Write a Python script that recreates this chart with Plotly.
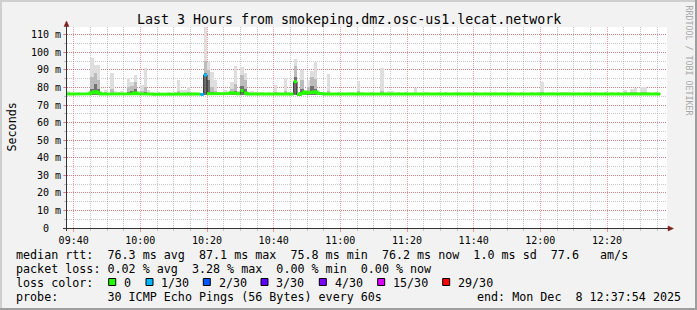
import plotly.graph_objects as go
from datetime import datetime, timedelta

# ---------------- data (one sample per minute, 09:38 .. 12:36) ----------------
median = [
    76.3, 76.2, 76.3, 76.1, 76.2, 76.3, 76.4, 77.0, 77.6, 76.8,
    76.3, 76.2, 76.2, 76.4, 76.1, 76.2, 76.3, 76.2, 76.5, 76.4,
    76.9, 76.4, 76.3, 76.6, 76.3, 76.2, 76.1, 76.2, 76.3, 76.2,
    76.2, 76.3, 76.1, 76.5, 76.2, 76.4, 76.3, 76.2, 76.1, 76.2,
    76.0, 87.1, 76.4, 76.3, 76.2, 76.2, 76.3, 76.2, 76.5, 77.0,
    76.6, 76.4, 78.2, 76.8, 76.3, 76.4, 76.2, 76.3, 76.2, 76.3,
    76.2, 76.3, 76.4, 76.2, 76.1, 76.5, 76.3, 76.2, 83.3, 76.0,
    76.6, 77.4, 76.8, 77.2, 77.5, 76.8, 76.4, 76.3, 76.2, 76.3,
    76.2, 76.3, 76.2, 76.1, 76.2, 76.3, 76.2, 76.4, 76.3, 76.2,
    76.3, 76.2, 76.2, 76.3, 76.4, 76.2, 76.3, 76.4, 76.2, 76.3,
    76.2, 76.1, 76.2, 76.3, 76.4, 76.2, 76.2, 76.3, 76.2, 76.1,
    76.2, 76.3, 76.2, 76.3, 76.2, 76.2, 76.1, 76.2, 76.3, 76.2,
    76.2, 76.3, 76.2, 76.2, 76.1, 76.2, 76.3, 76.2, 76.2, 76.3,
    76.4, 76.2, 76.2, 76.1, 76.2, 76.3, 76.2, 76.2, 76.3, 76.4,
    76.2, 76.3, 76.5, 76.2, 76.2, 76.3, 76.2, 76.1, 76.2, 76.3,
    76.3, 76.2, 76.2, 76.1, 76.2, 76.3, 76.2, 76.2, 76.3, 76.2,
    76.2, 76.1, 76.2, 76.3, 76.2, 76.2, 76.3, 76.4, 76.3, 76.4,
    76.4, 76.3, 76.5, 76.4, 76.3, 76.2, 76.2, 76.2,
]

# lost pings (out of 30) per sample
loss = [
    0, 0, 0, 0, 0, 0, 0, 0, 0, 0,
    0, 0, 0, 0, 0, 0, 0, 0, 0, 0,
    0, 0, 0, 0, 0, 0, 0, 0, 0, 0,
    0, 0, 0, 0, 0, 0, 0, 0, 0, 0,
    1, 1, 0, 0, 0, 0, 0, 0, 0, 0,
    0, 0, 0, 0, 0, 0, 0, 0, 0, 0,
    0, 0, 0, 0, 0, 0, 0, 0, 0, 0,
    0, 0, 0, 0, 0, 0, 0, 0, 0, 0,
    0, 0, 0, 0, 0, 0, 0, 0, 0, 0,
    0, 0, 0, 0, 0, 0, 0, 0, 0, 0,
    0, 0, 0, 0, 0, 0, 0, 0, 0, 0,
    0, 0, 0, 0, 0, 0, 0, 0, 0, 0,
    0, 0, 0, 0, 0, 0, 0, 0, 0, 0,
    0, 0, 0, 0, 0, 0, 0, 0, 0, 0,
    0, 0, 0, 0, 0, 0, 0, 0, 0, 0,
    0, 0, 0, 0, 0, 0, 0, 0, 0, 0,
    0, 0, 0, 0, 0, 0, 0, 0, 0, 0,
    0, 0, 0, 0, 0, 0, 0, 0,
]

# smoke: fastest ping, outer (max), middle band top, inner band top
smoke_low = [
    75.8, 75.7, 75.8, 75.7, 75.8, 75.8, 75.9, 75.8, 75.9, 75.8,
    75.8, 75.7, 75.8, 75.8, 75.7, 75.8, 75.8, 75.7, 75.9, 75.8,
    75.9, 75.8, 75.8, 75.9, 75.8, 75.7, 75.7, 75.8, 75.8, 75.7,
    75.8, 75.8, 75.7, 75.9, 75.8, 75.8, 75.8, 75.7, 75.7, 75.8,
    75.8, 75.9, 75.9, 75.8, 75.8, 75.7, 75.8, 75.8, 75.9, 75.9,
    75.9, 75.8, 75.9, 75.9, 75.8, 75.8, 75.7, 75.8, 75.8, 75.8,
    75.8, 75.8, 75.8, 75.7, 75.7, 75.9, 75.8, 75.8, 75.9, 75.7,
    75.9, 75.9, 75.9, 75.9, 75.9, 75.8, 75.8, 75.8, 75.8, 75.8,
    75.8, 75.8, 75.7, 75.7, 75.8, 75.8, 75.8, 75.9, 75.8, 75.8,
    75.8, 75.8, 75.7, 75.8, 75.8, 75.7, 75.8, 75.8, 75.7, 75.8,
    75.8, 75.7, 75.8, 75.8, 75.8, 75.7, 75.8, 75.8, 75.8, 75.7,
    75.8, 75.8, 75.7, 75.8, 75.8, 75.7, 75.7, 75.8, 75.8, 75.7,
    75.8, 75.8, 75.7, 75.8, 75.7, 75.8, 75.8, 75.7, 75.8, 75.8,
    75.8, 75.7, 75.8, 75.7, 75.8, 75.8, 75.7, 75.8, 75.8, 75.8,
    75.7, 75.8, 75.9, 75.8, 75.7, 75.8, 75.8, 75.7, 75.8, 75.8,
    75.8, 75.7, 75.8, 75.7, 75.8, 75.8, 75.7, 75.8, 75.8, 75.7,
    75.8, 75.7, 75.8, 75.8, 75.7, 75.8, 75.8, 75.8, 75.8, 75.9,
    75.9, 75.8, 75.9, 75.8, 75.8, 75.8, 75.7, 75.8,
]
smoke_top = [
    78.0, 77.0, 76.9, 77.3, 77.1, 77.0, 77.5, 97.0, 93.0, 93.0,
    77.5, 78.6, 77.0, 88.4, 78.0, 77.5, 78.0, 77.0, 85.2, 83.3,
    87.1, 78.0, 81.4, 91.3, 78.6, 77.2, 77.0, 77.3, 77.0, 76.9,
    77.3, 77.0, 77.2, 84.3, 78.6, 78.4, 80.0, 77.2, 77.0, 76.9,
    76.9, 114.2, 94.6, 88.9, 84.3, 77.3, 77.0, 78.6, 77.2, 83.3,
    92.3, 77.8, 91.5, 88.4, 77.4, 77.8, 77.2, 77.0, 77.3, 77.0,
    77.2, 77.0, 81.4, 77.2, 77.0, 85.2, 77.3, 77.0, 96.2, 77.5,
    89.9, 78.0, 84.3, 89.4, 94.7, 77.5, 77.0, 77.2, 87.6, 77.0,
    77.0, 77.3, 77.0, 77.0, 77.6, 77.5, 77.0, 83.7, 77.2, 77.0,
    77.0, 77.2, 77.0, 77.0, 90.9, 77.0, 77.7, 77.7, 77.0, 77.6,
    77.0, 77.2, 77.0, 77.0, 79.6, 77.0, 77.0, 77.2, 77.4, 77.0,
    77.0, 77.2, 77.0, 77.4, 77.0, 77.0, 77.2, 77.4, 77.0, 77.0,
    77.3, 77.0, 77.2, 77.0, 77.0, 77.2, 77.0, 77.0, 77.3, 77.0,
    77.4, 77.0, 77.0, 77.2, 77.0, 77.0, 77.2, 77.0, 77.0, 77.4,
    77.0, 77.2, 83.3, 77.0, 77.2, 77.5, 77.0, 77.0, 77.2, 77.4,
    77.4, 77.0, 77.0, 77.2, 77.0, 77.4, 77.0, 77.0, 77.2, 77.0,
    77.0, 77.2, 77.0, 77.4, 77.0, 77.2, 77.0, 78.6, 77.2, 79.0,
    79.6, 77.2, 80.0, 80.0, 77.4, 77.0, 77.2, 77.0,
]
smoke_mid = [
    76.8, 76.8, 76.7, 76.9, 76.8, 76.8, 77.0, 86.0, 88.0, 84.0,
    76.9, 77.2, 76.8, 79.0, 77.0, 76.9, 77.0, 76.8, 80.0, 81.0,
    83.0, 77.0, 78.0, 80.0, 77.0, 76.8, 76.7, 76.8, 76.8, 76.7,
    76.8, 76.8, 76.8, 78.0, 77.0, 77.0, 77.5, 76.8, 76.7, 76.7,
    76.7, 95.0, 90.0, 80.0, 78.0, 76.8, 76.8, 77.0, 76.9, 79.0,
    82.0, 77.0, 87.0, 84.0, 76.9, 77.0, 76.8, 76.8, 76.9, 76.8,
    76.8, 76.8, 77.5, 76.8, 76.7, 78.0, 76.9, 76.8, 92.0, 76.8,
    84.0, 77.8, 80.0, 86.0, 85.0, 77.0, 76.8, 76.8, 78.0, 76.8,
    76.8, 76.9, 76.8, 76.7, 76.9, 76.9, 76.8, 78.0, 76.9, 76.8,
    76.8, 76.8, 76.8, 76.8, 78.0, 76.8, 77.0, 77.0, 76.8, 76.9,
    76.8, 76.7, 76.8, 76.9, 77.0, 76.8, 76.8, 76.9, 76.9, 76.7,
    76.8, 76.9, 76.8, 76.9, 76.8, 76.8, 76.7, 76.8, 76.9, 76.8,
    76.8, 76.9, 76.8, 76.8, 76.7, 76.8, 76.9, 76.8, 76.8, 76.9,
    77.0, 76.8, 76.8, 76.7, 76.8, 76.9, 76.8, 76.8, 76.9, 77.0,
    76.8, 76.9, 77.5, 76.8, 76.8, 76.9, 76.8, 76.7, 76.8, 76.9,
    76.9, 76.8, 76.8, 76.7, 76.8, 76.9, 76.8, 76.8, 76.9, 76.8,
    76.8, 76.7, 76.8, 76.9, 76.8, 76.8, 76.9, 77.2, 76.9, 77.2,
    77.4, 76.9, 77.5, 77.4, 76.9, 76.8, 76.8, 76.8,
]
smoke_dark = [
    76.5, 76.4, 76.5, 76.3, 76.4, 76.5, 76.6, 79.0, 82.0, 79.0,
    76.5, 76.6, 76.4, 77.0, 76.4, 76.5, 76.5, 76.4, 77.5, 78.0,
    79.0, 76.6, 76.8, 77.5, 76.5, 76.4, 76.3, 76.4, 76.5, 76.4,
    76.4, 76.5, 76.3, 76.8, 76.4, 76.6, 76.8, 76.4, 76.3, 76.4,
    76.3, 88.0, 84.0, 77.5, 76.8, 76.4, 76.5, 76.5, 76.7, 77.5,
    78.0, 76.6, 81.0, 79.0, 76.5, 76.6, 76.4, 76.5, 76.4, 76.5,
    76.4, 76.5, 76.7, 76.4, 76.3, 76.8, 76.5, 76.4, 86.0, 76.3,
    79.0, 77.6, 77.5, 81.0, 79.0, 77.0, 76.6, 76.5, 76.6, 76.5,
    76.4, 76.5, 76.4, 76.3, 76.4, 76.5, 76.4, 76.7, 76.5, 76.4,
    76.5, 76.4, 76.4, 76.5, 76.7, 76.4, 76.5, 76.6, 76.4, 76.5,
    76.4, 76.3, 76.4, 76.5, 76.6, 76.4, 76.4, 76.5, 76.4, 76.3,
    76.4, 76.5, 76.4, 76.5, 76.4, 76.4, 76.3, 76.4, 76.5, 76.4,
    76.4, 76.5, 76.4, 76.4, 76.3, 76.4, 76.5, 76.4, 76.4, 76.5,
    76.6, 76.4, 76.4, 76.3, 76.4, 76.5, 76.4, 76.4, 76.5, 76.6,
    76.4, 76.5, 76.7, 76.4, 76.4, 76.5, 76.4, 76.3, 76.4, 76.5,
    76.5, 76.4, 76.4, 76.3, 76.4, 76.5, 76.4, 76.4, 76.5, 76.4,
    76.4, 76.3, 76.4, 76.5, 76.4, 76.4, 76.5, 76.6, 76.5, 76.6,
    76.6, 76.5, 76.7, 76.6, 76.5, 76.4, 76.4, 76.4,
]

y_tick_values = [0, 10, 20, 30, 40, 50, 60, 70, 80, 90, 100, 110]
y_tick_labels = ["0\u00a0\u00a0", "10 m", "20 m", "30 m", "40 m", "50 m",
                 "60 m", "70 m", "80 m", "90 m", "100 m", "110 m"]

loss_labels = ["0", "1/30", "2/30", "3/30", "4/30", "15/30", "29/30"]
loss_thresholds = [0, 1, 2, 3, 4, 15, 29]
loss_colors = ["#26ff00", "#00b8ff", "#0059ff", "#5e00ff", "#7e00ff", "#dd00ff", "#ff0000"]

title_text = "Last 3 Hours from smokeping.dmz.osc-us1.lecat.network"
legend_rtt = "median rtt:  76.3 ms avg  87.1 ms max  75.8 ms min  76.2 ms now  1.0 ms sd  77.6   am/s"
legend_loss = "packet loss: 0.02 % avg  3.28 % max  0.00 % min  0.00 % now"
legend_probe = "probe:       30 ICMP Echo Pings (56 Bytes) every 60s"
legend_end = "end: Mon Dec  8 12:37:54 2025"

start = datetime(2025, 12, 8, 9, 38, 0)
end = datetime(2025, 12, 8, 12, 38, 0)
STEP = timedelta(seconds=60)

# ---------------- geometry helpers (pixels -> paper) ----------------
W, H = 697, 310
L, R, T, B = 67, 667, 27, 228
YMAX = 114.4
JUMP = 1.0  # median steps larger than this are drawn only with the thin dark line


def px(x):
    return (x - L) / (R - L)


def py(y):
    return (B - y) / (B - T)


def nb(s):
    return s.replace(" ", "\u00a0")


MONO = "DejaVu Sans Mono"
GRID = "rgba(143,143,143,0.5)"
MGRID = "rgba(222,79,79,0.55)"
ARROW = "#802020"
AXIS = "#333333"

times = [start + STEP * k for k in range(len(median))]

fig = go.Figure()

# smoke layers
for top, col in ((smoke_top, "#dedede"), (smoke_mid, "#bcbcbc"), (smoke_dark, "#727272")):
    fig.add_trace(go.Bar(
        x=times, y=[t - b for t, b in zip(top, smoke_low)], base=smoke_low,
        width=60000, offset=0, marker=dict(color=col, line=dict(width=0)),
        hoverinfo="skip", showlegend=False))

# thin dark median step (visible only on the vertical transitions)
mx, my = [], []
for t, m in zip(times, median):
    mx += [t, t + STEP]
    my += [m, m]
fig.add_trace(go.Scatter(x=mx, y=my, mode="lines", line=dict(color="#202020", width=1),
                         hoverinfo="skip", showlegend=False))


def bucket(n):
    idx = 0
    for i, th in enumerate(loss_thresholds):
        if n >= th:
            idx = i
    return idx


# thick median, coloured by loss
for ci, col in enumerate(loss_colors):
    sx, sy = [], []
    prev_m = None
    for t, m, n in zip(times, median, loss):
        if bucket(n) == ci:
            if prev_m is not None and abs(m - prev_m) > JUMP:
                sx.append(None)
                sy.append(None)
            sx += [t, t + STEP]
            sy += [m, m]
            prev_m = m
        else:
            if prev_m is not None:
                sx.append(None)
                sy.append(None)
            prev_m = None
    if sx:
        fig.add_trace(go.Scatter(x=sx, y=sy, mode="lines", line=dict(color=col, width=3),
                                 hoverinfo="skip", showlegend=False, connectgaps=False))

shapes = []
# frame shading
shapes.append(dict(type="rect", xref="paper", yref="paper", x0=px(0), x1=px(697), y0=py(0), y1=py(2),
                   fillcolor="#cfcfcf", line=dict(width=0), layer="below"))
shapes.append(dict(type="rect", xref="paper", yref="paper", x0=px(0), x1=px(2), y0=py(0), y1=py(310),
                   fillcolor="#cfcfcf", line=dict(width=0), layer="below"))
shapes.append(dict(type="rect", xref="paper", yref="paper", x0=px(695), x1=px(697), y0=py(0), y1=py(310),
                   fillcolor="#9e9e9e", line=dict(width=0), layer="below"))
shapes.append(dict(type="rect", xref="paper", yref="paper", x0=px(0), x1=px(697), y0=py(308), y1=py(310),
                   fillcolor="#9e9e9e", line=dict(width=0), layer="below"))
# axes
shapes.append(dict(type="line", xref="paper", yref="paper", x0=px(66.5), x1=px(66.5), y0=py(231), y1=py(24),
                   line=dict(color=AXIS, width=1)))
shapes.append(dict(type="line", xref="paper", yref="paper", x0=px(63), x1=px(670), y0=py(228.5), y1=py(228.5),
                   line=dict(color=AXIS, width=1)))
shapes.append(dict(type="path", xref="paper", yref="paper",
                   path="M {},{} L {},{} L {},{} Z".format(px(64), py(26.5), px(69), py(26.5), px(66.5), py(21)),
                   fillcolor=ARROW, line=dict(color=ARROW, width=0.5)))
shapes.append(dict(type="path", xref="paper", yref="paper",
                   path="M {},{} L {},{} L {},{} Z".format(px(668), py(226), px(668), py(231), px(673.5), py(228.5)),
                   fillcolor=ARROW, line=dict(color=ARROW, width=0.5)))

annotations = []


def text(x, y, s, size=11.7, anchor="left", color="#000000", angle=0):
    annotations.append(dict(xref="paper", yref="paper", x=px(x), y=py(y), text=nb(s), showarrow=False,
                            xanchor=anchor, yanchor="middle", textangle=angle, borderpad=0, borderwidth=0,
                            font=dict(family=MONO, size=size, color=color)))


text(348.5, 19.5, title_text, size=13.3, anchor="center")
text(11, 127.5, "Seconds", size=11.7, anchor="center", angle=-90)
text(688.5, 60, "RRDTOOL / TOBI OETIKER", size=8.3, anchor="center", color="#a8a8a8", angle=90)
text(16, 254.5, legend_rtt)
text(16, 268.5, legend_loss)
text(16, 282.5, "loss color:")
text(16, 296.5, legend_probe)
text(681, 296.5, legend_end, anchor="right")

sq_x = [108.7, 146, 203.3, 261, 319.3, 377.7, 442.7]
for xs, col, lab in zip(sq_x, loss_colors, loss_labels):
    shapes.append(dict(type="rect", xref="paper", yref="paper", x0=px(xs), x1=px(xs + 7),
                       y0=py(278.5), y1=py(285.5), fillcolor=col, line=dict(color="#000000", width=1)))
    text(xs + 15.3, 282.5, lab)

fig.update_layout(
    width=W, height=H, autosize=False,
    margin=dict(l=L, r=W - R, t=T, b=H - B, pad=0),
    paper_bgcolor="#f2f2f2", plot_bgcolor="#ffffff",
    barmode="overlay", bargap=0, showlegend=False,
    shapes=shapes, annotations=annotations,
    xaxis=dict(type="date", range=[start, end], tick0="2025-12-08 09:40:00", dtick=1200000,
               tickformat="%H:%M", showgrid=True, gridcolor=MGRID, griddash="1px,1px", gridwidth=1,
               ticks="outside", ticklen=3, tickcolor=MGRID, showline=False, zeroline=False,
               tickfont=dict(family=MONO, size=10, color="#000000"),
               minor=dict(dtick=300000, showgrid=True, gridcolor=GRID, griddash="1px,1px",
                          ticks="outside", ticklen=2, tickcolor=GRID)),
    yaxis=dict(range=[0, YMAX], tickvals=y_tick_values, ticktext=y_tick_labels,
               showgrid=True, gridcolor=MGRID, griddash="1px,1px", gridwidth=1,
               ticks="outside", ticklen=3, tickcolor=MGRID, showline=False, zeroline=False,
               tickfont=dict(family=MONO, size=10, color="#000000"),
               minor=dict(dtick=5, showgrid=True, gridcolor=GRID, griddash="1px,1px",
                          ticks="outside", ticklen=2, tickcolor=GRID)),
)

fig.write_html("out.html", config={"displayModeBar": False})
